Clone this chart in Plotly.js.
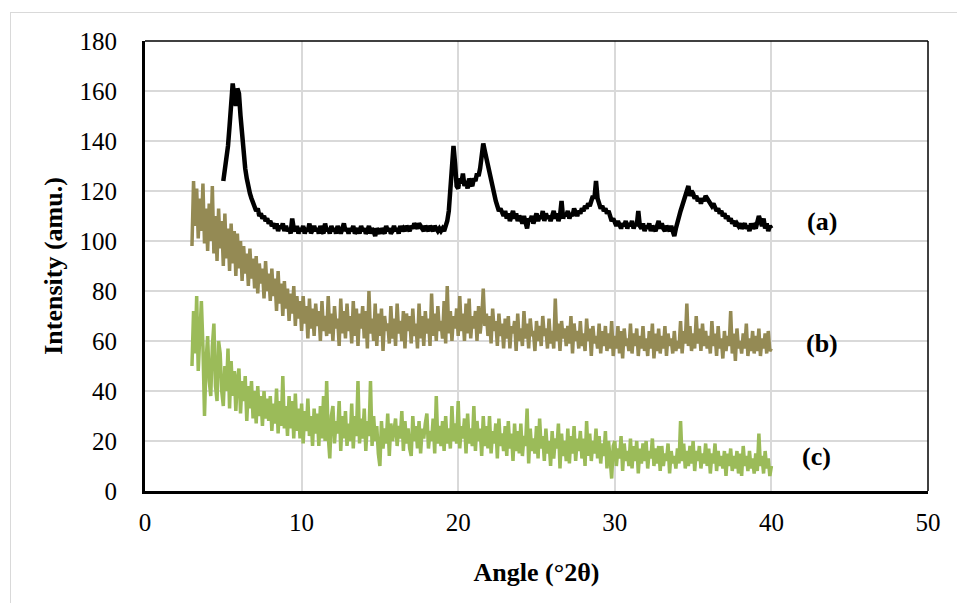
<!DOCTYPE html>
<html>
<head>
<meta charset="utf-8">
<script src="https://cdn.plot.ly/plotly-3.0.1.min.js"></script>
<style>
  html, body { margin: 0; padding: 0; background: #ffffff; overflow: hidden; }
  #wrap { position: relative; width: 957px; height: 603px; }
  #chart { position: absolute; left: 0; top: 0; width: 957px; height: 603px; }
  #frame { position: absolute; left: 10px; top: 12px; width: 1000px; height: 1000px;
           border: 1px solid #d9d9d9; pointer-events: none; }
</style>
</head>
<body>
<div id="wrap">
  <div id="chart"></div>
  <div id="frame"></div>
</div>
<script>
// 2-theta angles (degrees), scan sampled every 0.1 deg
const angles = [
  3.0,3.1,3.2,3.3,3.4,3.5,3.6,3.7,3.8,3.9,
  4.0,4.1,4.2,4.3,4.4,4.5,4.6,4.7,4.8,4.9,
  5.0,5.1,5.2,5.3,5.4,5.5,5.6,5.7,5.8,5.9,
  6.0,6.1,6.2,6.3,6.4,6.5,6.6,6.7,6.8,6.9,
  7.0,7.1,7.2,7.3,7.4,7.5,7.6,7.7,7.8,7.9,
  8.0,8.1,8.2,8.3,8.4,8.5,8.6,8.7,8.8,8.9,
  9.0,9.1,9.2,9.3,9.4,9.5,9.6,9.7,9.8,9.9,
  10.0,10.1,10.2,10.3,10.4,10.5,10.6,10.7,10.8,10.9,
  11.0,11.1,11.2,11.3,11.4,11.5,11.6,11.7,11.8,11.9,
  12.0,12.1,12.2,12.3,12.4,12.5,12.6,12.7,12.8,12.9,
  13.0,13.1,13.2,13.3,13.4,13.5,13.6,13.7,13.8,13.9,
  14.0,14.1,14.2,14.3,14.4,14.5,14.6,14.7,14.8,14.9,
  15.0,15.1,15.2,15.3,15.4,15.5,15.6,15.7,15.8,15.9,
  16.0,16.1,16.2,16.3,16.4,16.5,16.6,16.7,16.8,16.9,
  17.0,17.1,17.2,17.3,17.4,17.5,17.6,17.7,17.8,17.9,
  18.0,18.1,18.2,18.3,18.4,18.5,18.6,18.7,18.8,18.9,
  19.0,19.1,19.2,19.3,19.4,19.5,19.6,19.7,19.8,19.9,
  20.0,20.1,20.2,20.3,20.4,20.5,20.6,20.7,20.8,20.9,
  21.0,21.1,21.2,21.3,21.4,21.5,21.6,21.7,21.8,21.9,
  22.0,22.1,22.2,22.3,22.4,22.5,22.6,22.7,22.8,22.9,
  23.0,23.1,23.2,23.3,23.4,23.5,23.6,23.7,23.8,23.9,
  24.0,24.1,24.2,24.3,24.4,24.5,24.6,24.7,24.8,24.9,
  25.0,25.1,25.2,25.3,25.4,25.5,25.6,25.7,25.8,25.9,
  26.0,26.1,26.2,26.3,26.4,26.5,26.6,26.7,26.8,26.9,
  27.0,27.1,27.2,27.3,27.4,27.5,27.6,27.7,27.8,27.9,
  28.0,28.1,28.2,28.3,28.4,28.5,28.6,28.7,28.8,28.9,
  29.0,29.1,29.2,29.3,29.4,29.5,29.6,29.7,29.8,29.9,
  30.0,30.1,30.2,30.3,30.4,30.5,30.6,30.7,30.8,30.9,
  31.0,31.1,31.2,31.3,31.4,31.5,31.6,31.7,31.8,31.9,
  32.0,32.1,32.2,32.3,32.4,32.5,32.6,32.7,32.8,32.9,
  33.0,33.1,33.2,33.3,33.4,33.5,33.6,33.7,33.8,33.9,
  34.0,34.1,34.2,34.3,34.4,34.5,34.6,34.7,34.8,34.9,
  35.0,35.1,35.2,35.3,35.4,35.5,35.6,35.7,35.8,35.9,
  36.0,36.1,36.2,36.3,36.4,36.5,36.6,36.7,36.8,36.9,
  37.0,37.1,37.2,37.3,37.4,37.5,37.6,37.7,37.8,37.9,
  38.0,38.1,38.2,38.3,38.4,38.5,38.6,38.7,38.8,38.9,
  39.0,39.1,39.2,39.3,39.4,39.5,39.6,39.7,39.8,39.9,
  40.0
];
// sample (a) scan starts at 5.0 deg
const anglesA = angles.slice(20);

const intensityA = [
  124,128,132,138,146,153,163,158,154,161,
  159,150,142,136,129,125,121,119,117,115,
  114,112,113,110,111,109,110,108,109,107,
  108,106,107,105,107,104,106,105,107,104,
  106,104,105,103,109,105,104,106,103,105,
  104,106,103,105,104,107,103,105,106,104,
  105,103,106,104,103,107,104,105,103,106,
  104,105,103,106,104,103,105,107,104,105,
  103,105,104,106,103,104,105,103,106,104,
  105,103,104,106,103,105,104,102,105,104,
  103,105,104,103,106,104,105,103,104,106,
  104,105,103,106,104,105,104,106,105,104,
  106,105,107,106,105,107,106,105,104,106,
  105,104,106,105,104,106,105,104,105,104,
  105,104,106,108,112,120,130,138,131,122,
  121,125,123,127,122,124,121,125,123,122,
  125,124,127,126,129,134,139,136,133,130,
  126,123,120,117,116,114,112,113,111,110,
  112,109,111,108,110,112,109,111,108,110,
  109,107,110,108,105,109,108,110,107,109,
  111,108,110,109,112,108,111,109,110,108,
  110,112,109,111,108,110,116,109,111,110,
  112,109,111,110,113,111,110,112,111,113,
  112,114,113,115,114,116,118,117,124,117,
  115,113,114,112,113,111,112,110,108,109,
  107,106,108,106,105,107,106,108,105,107,
  106,108,105,107,106,112,106,105,107,104,
  106,105,107,104,106,105,104,106,108,105,
  107,105,104,106,105,104,106,103,102,105,
  108,110,112,114,116,118,121,122,118,120,
  119,117,118,116,117,115,117,116,118,117,
  116,115,114,115,113,112,113,111,112,110,
  111,109,110,108,109,107,108,106,107,106,
  107,105,106,107,105,106,104,107,105,106,
  105,107,110,108,106,109,105,107,104,106,
  105
];

const intensityB = [
  98,124,106,121,101,117,104,123,99,113,
  96,115,100,122,95,110,92,113,97,108,
  90,111,93,105,88,107,91,104,86,103,
  89,100,84,98,87,95,82,97,85,93,
  81,94,79,91,83,89,77,92,80,87,
  76,89,78,85,72,88,75,83,70,84,
  73,81,68,79,71,82,66,78,69,76,
  64,78,67,74,61,77,65,73,62,75,
  66,72,60,76,64,70,62,78,63,71,
  60,74,65,69,58,77,63,72,61,75,
  64,70,59,76,62,73,58,71,65,74,
  61,72,57,80,63,69,60,75,58,71,
  62,73,56,70,64,67,59,74,61,69,
  58,75,63,68,60,72,57,71,64,70,
  59,73,62,67,57,75,61,70,58,72,
  63,69,58,79,62,71,60,74,64,68,
  61,76,59,82,63,72,60,70,65,73,
  62,78,64,71,60,75,63,77,61,70,
  65,72,60,74,63,69,81,66,71,62,
  70,59,73,64,68,58,71,62,67,57,
  69,61,70,57,66,63,68,56,71,60,
  65,58,72,61,67,57,69,62,64,56,
  68,60,66,58,70,62,65,57,69,59,
  64,57,77,60,67,56,68,61,65,58,
  66,59,70,55,67,60,64,57,68,58,
  63,56,69,60,65,54,66,59,62,57,
  67,55,64,58,66,56,63,57,68,54,
  62,57,66,55,64,53,65,58,61,56,
  67,55,63,58,65,54,62,57,66,56,
  61,54,64,57,67,53,63,56,65,55,
  62,57,66,54,63,58,61,55,64,56,
  60,57,68,55,64,59,75,58,66,56,
  63,57,70,59,65,56,67,58,64,57,
  62,55,68,58,63,54,66,57,61,53,
  64,56,62,58,72,55,63,52,65,57,
  60,55,63,57,67,54,61,56,64,55,
  62,56,65,54,61,57,63,55,64,56,
  57
];

const intensityC = [
  50,72,55,78,48,64,76,58,30,52,
  62,44,38,58,67,42,36,60,55,40,
  34,50,40,57,33,52,38,48,32,45,
  49,31,44,36,46,28,42,33,44,29,
  40,27,42,30,38,26,40,29,37,28,
  38,24,35,27,41,23,36,26,46,25,
  34,22,38,25,36,21,39,24,33,21,
  35,19,32,24,37,22,30,18,33,23,
  31,18,34,21,38,20,44,22,13,30,
  34,19,28,23,36,16,30,21,32,18,
  27,20,35,17,30,22,44,19,29,21,
  33,16,28,22,44,18,30,20,26,15,
  10,28,17,25,19,31,14,27,20,24,
  29,18,26,21,32,16,28,19,25,17,
  14,30,20,26,17,28,15,25,21,27,
  31,17,24,20,29,15,38,19,26,18,
  28,16,30,19,25,17,34,20,27,19,
  36,17,26,21,29,15,31,19,25,18,
  34,16,28,20,25,14,30,18,26,17,
  30,15,24,19,27,13,29,18,23,16,
  26,14,28,17,23,12,27,16,24,15,
  27,14,22,18,33,11,25,16,21,15,
  26,13,29,17,22,12,25,15,20,10,
  24,13,21,17,27,9,23,14,20,12,
  25,11,22,15,26,12,21,16,24,13,
  21,10,28,14,23,12,20,15,25,13,
  22,11,19,14,24,9,20,13,5,18,
  20,10,17,13,22,8,19,12,16,10,
  21,9,18,12,20,7,17,11,19,12,
  20,9,16,13,21,10,17,11,18,8,
  18,10,15,12,19,7,16,11,14,9,
  17,11,28,12,19,9,16,10,18,11,
  20,8,16,12,18,9,15,11,19,10,
  17,7,15,11,19,8,16,10,14,9,
  16,6,15,10,17,8,14,9,16,7,
  15,6,18,10,14,8,16,9,13,7,
  15,8,23,10,14,7,16,9,13,6,
  10
];

const seriesLabels = ['(a)', '(b)', '(c)'];
const labelX = [43.2, 43.2, 42.9];
const labelY = [107.7, 59.2, 14];
const xTicks = [0, 10, 20, 30, 40, 50];
const yTicks = [0, 20, 40, 60, 80, 100, 120, 140, 160, 180];

const serif = '"Liberation Serif", "Times New Roman", serif';

const traces = [
  { x: angles, y: intensityC, type: 'scatter', mode: 'lines', name: '(c)',
    line: { color: '#9bbb59', width: 3.5 } },
  { x: angles, y: intensityB, type: 'scatter', mode: 'lines', name: '(b)',
    line: { color: '#948a54', width: 3.5 } },
  { x: anglesA, y: intensityA, type: 'scatter', mode: 'lines', name: '(a)',
    line: { color: '#000000', width: 4.5 } }
];

const annotations = seriesLabels.map((t, i) => ({
  x: labelX[i], y: labelY[i], xref: 'x', yref: 'y', text: '<b>' + t + '</b>',
  showarrow: false, xanchor: 'center', yanchor: 'middle',
  font: { family: serif, size: 26, color: '#000000' }
}));

const layout = {
  width: 957, height: 603,
  margin: { l: 145, r: 29, t: 41, b: 112 },
  paper_bgcolor: 'rgba(0,0,0,0)',
  plot_bgcolor: '#ffffff',
  showlegend: false,
  font: { family: serif, size: 25, color: '#000000' },
  xaxis: {
    range: [0, 50], tickvals: xTicks, ticktext: xTicks.map(String),
    showgrid: true, gridcolor: '#d9d9d9', gridwidth: 2,
    zeroline: false, showline: true, linecolor: '#000000', linewidth: 3,
    ticks: '', ticklabelstandoff: 7,
    tickfont: { family: serif, size: 25, color: '#000000' },
    title: { text: '<b>Angle (°2θ)</b>', font: { family: serif, size: 26, color: '#000000' }, standoff: 28 },
    automargin: false
  },
  yaxis: {
    range: [0, 180], tickvals: yTicks, ticktext: yTicks.map(String),
    showgrid: true, gridcolor: '#d9d9d9', gridwidth: 2,
    zeroline: false, showline: true, linecolor: '#000000', linewidth: 3,
    ticks: '', ticklabelstandoff: 20,
    tickfont: { family: serif, size: 25, color: '#000000' },
    title: { text: '<b>Intensity (amu.)</b>', font: { family: serif, size: 26, color: '#000000' }, standoff: 10 },
    automargin: false
  },
  shapes: [
    { type: 'line', xref: 'paper', yref: 'paper', x0: 0, x1: 1, y0: 1, y1: 1,
      line: { color: '#000000', width: 1.5 } },
    { type: 'line', xref: 'paper', yref: 'paper', x0: 1, x1: 1, y0: 0, y1: 1,
      line: { color: '#000000', width: 1.5 } }
  ],
  annotations: annotations
};

Plotly.newPlot('chart', traces, layout, { staticPlot: true, displayModeBar: false });
</script>
</body>
</html>
